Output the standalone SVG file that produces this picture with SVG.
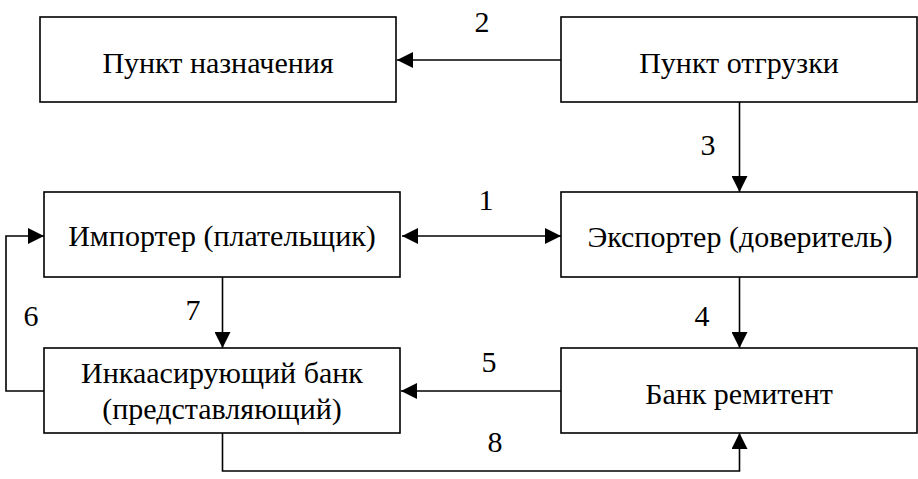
<svg xmlns="http://www.w3.org/2000/svg" width="918" height="479" viewBox="0 0 918 479">
  <style>
    .box { fill: #ffffff; stroke: #000000; stroke-width: 1.6; }
    text { font-family: "Liberation Serif", "Times New Roman", "DejaVu Serif", serif; font-size: 30px; fill: #000000; text-anchor: middle; }
    .con { fill: none; stroke: #000000; stroke-width: 1.6; }
  </style>
  <defs>
    <marker id="arr" viewBox="0 0 16 16" refX="16" refY="8" markerWidth="16" markerHeight="16" markerUnits="userSpaceOnUse" orient="auto-start-reverse">
      <path d="M0,0 L16,8 L0,16 z" fill="#000000"/>
    </marker>
  </defs>
  <rect width="918" height="479" fill="#ffffff"/>

  <g id="connectors">
    <line class="con" x1="402" y1="236" x2="561" y2="236" marker-start="url(#arr)" marker-end="url(#arr)"/>
    <line class="con" x1="561" y1="60" x2="397" y2="60" marker-end="url(#arr)"/>
    <line class="con" x1="739.5" y1="102" x2="739.5" y2="192" marker-end="url(#arr)"/>
    <line class="con" x1="739.5" y1="277" x2="739.5" y2="348" marker-end="url(#arr)"/>
    <line class="con" x1="561" y1="391" x2="401" y2="391" marker-end="url(#arr)"/>
    <polyline class="con" points="44,391 6,391 6,236 44,236" marker-end="url(#arr)"/>
    <line class="con" x1="222.5" y1="277" x2="222.5" y2="348" marker-end="url(#arr)"/>
    <polyline class="con" points="222.5,433 222.5,471 739.5,471 739.5,433" marker-end="url(#arr)"/>
    <text x="482" y="32">2</text>
    <text x="708" y="155">3</text>
    <text x="486" y="210">1</text>
    <text x="193" y="320">7</text>
    <text x="31" y="326">6</text>
    <text x="702" y="326">4</text>
    <text x="489" y="372">5</text>
    <text x="495" y="452">8</text>
  </g>

  <g id="node-destination">
    <rect class="box" x="40" y="17" width="356" height="85"/>
    <text x="218" y="73">Пункт назначения</text>
  </g>
  <g id="node-shipment">
    <rect class="box" x="561" y="17" width="356" height="85"/>
    <text x="739" y="73">Пункт отгрузки</text>
  </g>
  <g id="node-importer">
    <rect class="box" x="44" y="192" width="356" height="85"/>
    <text x="222" y="246">Импортер (плательщик)</text>
  </g>
  <g id="node-exporter">
    <rect class="box" x="561" y="192" width="356" height="85"/>
    <text x="740" y="247">Экспортер (доверитель)</text>
  </g>
  <g id="node-collecting-bank">
    <rect class="box" x="44" y="348" width="356" height="85"/>
    <text x="222" y="383">Инкаасирующий банк</text>
    <text x="222" y="419">(представляющий)</text>
  </g>
  <g id="node-remitting-bank">
    <rect class="box" x="561" y="348" width="356" height="85"/>
    <text x="739" y="404">Банк ремитент</text>
  </g>
</svg>
